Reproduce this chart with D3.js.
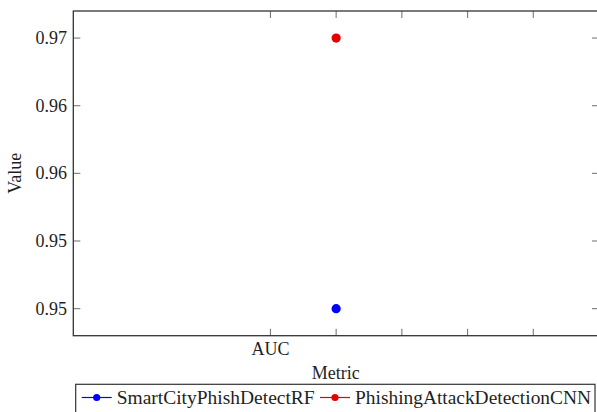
<!DOCTYPE html>
<html><head><meta charset="utf-8">
<script src="https://cdn.jsdelivr.net/npm/d3@7/dist/d3.min.js"></script>
<style>
html,body{margin:0;padding:0;background:#fff;}
svg{display:block;}
</style></head>
<body><svg id="c" width="597" height="412"></svg>
<script>
// ---- data ----
const categories = ["AUC"];
const seriesNames = ["SmartCityPhishDetectRF", "PhishingAttackDetectionCNN"];
const seriesColors = ["#0000ff", "#e60000"];
const seriesX = [1, 1];            // x position of each point on the metric axis
const seriesValues = [[0.95], [0.97]];
const xTicks = [0, 1, 2, 3, 4];
const xTickLabels = ["AUC", "", "", "", ""];
const yTicks = [0.95, 0.955, 0.96, 0.965, 0.97];
const yTickLabels = ["0.95", "0.95", "0.96", "0.96", "0.97"];

// ---- layout ----
const FONT = "'Liberation Serif', 'Times New Roman', serif";
const TXT = "#1f1f1f";
const L = 73.3, R = 599, T = 11, B = 335.7;
const svg = d3.select("#c");
const x = d3.scaleLinear().domain([-3, 5]).range([L, R]);
const y = d3.scaleLinear().domain([0.948, 0.972]).range([B, T]);
const tickLen = 7;

function txt(sel) { return sel.style("font-family", FONT).attr("fill", TXT); }

// ticks
const tickCol = "#7a7a7a";
const g = svg.append("g");
xTicks.forEach(t => {
  g.append("line").attr("x1", x(t)).attr("x2", x(t)).attr("y1", B).attr("y2", B - tickLen)
    .attr("stroke", tickCol).attr("stroke-width", 1.1);
  g.append("line").attr("x1", x(t)).attr("x2", x(t)).attr("y1", T).attr("y2", T + tickLen)
    .attr("stroke", tickCol).attr("stroke-width", 1.1);
});
yTicks.forEach(t => {
  g.append("line").attr("x1", L).attr("x2", L + tickLen).attr("y1", y(t)).attr("y2", y(t))
    .attr("stroke", tickCol).attr("stroke-width", 1.1);
  g.append("line").attr("x1", R).attr("x2", R - tickLen).attr("y1", y(t)).attr("y2", y(t))
    .attr("stroke", tickCol).attr("stroke-width", 1.1);
});

// frame
svg.append("rect").attr("x", L).attr("y", T).attr("width", R - L).attr("height", B - T)
  .attr("fill", "none").attr("stroke", "#333").attr("stroke-width", 1.3);

// tick labels
yTicks.forEach((t, i) => {
  txt(svg.append("text")).attr("x", 67).attr("y", y(t) + 6).attr("text-anchor", "end")
    .attr("font-size", 18).text(yTickLabels[i]);
});
xTicks.forEach((t, i) => {
  if (!xTickLabels[i]) return;
  txt(svg.append("text")).attr("x", x(t)).attr("y", 355).attr("text-anchor", "middle")
    .attr("font-size", 18).text(xTickLabels[i]);
});

// axis labels
txt(svg.append("text")).attr("x", (L + 598) / 2).attr("y", 379).attr("text-anchor", "middle")
  .attr("font-size", 18).text("Metric");
txt(svg.append("text")).attr("transform", `translate(21,${(T + B) / 2}) rotate(-90)`)
  .attr("text-anchor", "middle").attr("font-size", 18).text("Value");

// points
seriesNames.forEach((name, si) => {
  seriesValues[si].forEach(v => {
    svg.append("circle").attr("cx", x(seriesX[si])).attr("cy", y(v)).attr("r", 4.6)
      .attr("fill", seriesColors[si]);
  });
});

// legend
const lg = svg.append("g");
lg.append("rect").attr("x", 75.7).attr("y", 384.3).attr("width", 595 - 75.7).attr("height", 40)
  .attr("fill", "#fff").attr("stroke", "#333").attr("stroke-width", 1.2);
const legX = [81.7, 320];
const legTextW = [198, 236];
seriesNames.forEach((name, si) => {
  const x0 = legX[si];
  lg.append("line").attr("x1", x0).attr("x2", x0 + 30).attr("y1", 397.5).attr("y2", 397.5)
    .attr("stroke", seriesColors[si]).attr("stroke-width", 1.2);
  lg.append("circle").attr("cx", x0 + 15).attr("cy", 397.5).attr("r", 3.6).attr("fill", seriesColors[si]);
  txt(lg.append("text")).attr("x", x0 + 35).attr("y", 403.5).attr("font-size", 18)
    .attr("textLength", legTextW[si]).attr("lengthAdjust", "spacingAndGlyphs").text(name);
});
</script></body></html>
